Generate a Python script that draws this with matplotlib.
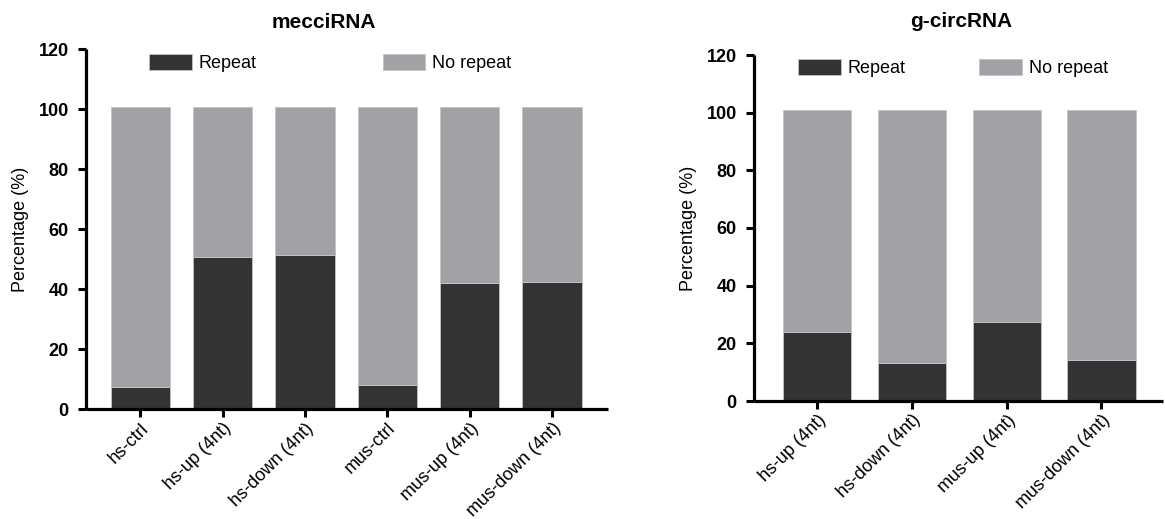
import matplotlib
matplotlib.use("Agg")
import matplotlib.pyplot as plt
from matplotlib.patches import Patch

plt.rcParams['font.family'] = ['Liberation Sans', 'DejaVu Sans']

# ---- data ----
left_title = "mecciRNA"
left_categories = ['hs-ctrl', 'hs-up (4nt)', 'hs-down (4nt)', 'mus-ctrl', 'mus-up (4nt)', 'mus-down (4nt)']
left_repeat = [7.3, 50.7, 51.6, 8.1, 42.2, 42.5]
left_norepeat = [93.6, 50.2, 49.3, 92.8, 58.7, 58.4]

right_title = "g-circRNA"
right_categories = ['hs-up (4nt)', 'hs-down (4nt)', 'mus-up (4nt)', 'mus-down (4nt)']
right_repeat = [24.0, 13.1, 27.5, 14.2]
right_norepeat = [76.9, 87.8, 73.4, 86.7]

yticks = [0, 20, 40, 60, 80, 100, 120]
series_names = ['Repeat', 'No repeat']
ylabel = 'Percentage (%)'

DARK = '#333333'
GRAY = '#a2a1a5'
EDGE = '#c4c4c4'

W, H = 1165, 519
fig = plt.figure(figsize=(W / 100, H / 100), dpi=100)


def make_axes(px_left, px_right, px_bottom, px_top):
    return fig.add_axes([px_left / W, (H - px_bottom) / H,
                         (px_right - px_left) / W, (px_bottom - px_top) / H])


def draw(ax, cats, rep, norep, title, xlim, title_x, title_pad,
         leg_x, leg_y, colspace):
    x = list(range(len(cats)))
    ax.bar(x, rep, width=0.72, color=DARK, edgecolor=EDGE, linewidth=0.6, zorder=2)
    ax.bar(x, norep, bottom=rep, width=0.72, color=GRAY, edgecolor=EDGE, linewidth=0.6, zorder=2)
    ax.set_xlim(*xlim)
    ax.set_ylim(0, 120)
    ax.set_yticks(yticks)
    ax.set_yticklabels([str(v) for v in yticks], fontsize=13, fontweight='bold')
    ax.set_xticks(x)
    ax.set_xticklabels(cats, rotation=45, ha='right', rotation_mode='anchor', fontsize=13)
    ax.tick_params(axis='x', length=5.5, width=2.2, pad=2)
    ax.tick_params(axis='y', length=5.5, width=2.2, pad=7)
    for s in ['top', 'right']:
        ax.spines[s].set_visible(False)
    for s in ['left', 'bottom']:
        ax.spines[s].set_linewidth(2.3)
        ax.spines[s].set_capstyle('butt')
    ax.set_ylabel(ylabel, fontsize=13, labelpad=7)
    ax.text(title_x, 1.0 + title_pad, title, transform=ax.transAxes,
            ha='center', va='center', fontsize=15, fontweight='bold')
    handles = [Patch(facecolor=DARK, edgecolor=EDGE, linewidth=0.6),
               Patch(facecolor=GRAY, edgecolor=EDGE, linewidth=0.6)]
    ax.legend(handles, series_names, ncol=2, frameon=False, fontsize=13,
              loc='center left', bbox_to_anchor=(leg_x, leg_y),
              borderaxespad=0, borderpad=0, handlelength=2.35,
              handleheight=1.0, handletextpad=0.38, columnspacing=colspace)


axL = make_axes(86, 608, 409.3, 49.3)
draw(axL, left_categories, left_repeat, left_norepeat, left_title,
     (-0.66, 5.68), 0.456, 0.074, 0.121, 0.962, 7.0)

axR = make_axes(754, 1163, 401, 55)
draw(axR, right_categories, right_repeat, right_norepeat, right_title,
     (-0.667, 3.65), 0.506, 0.096, 0.108, 0.962, 4.1)

fig.savefig('out.png', dpi=100)
